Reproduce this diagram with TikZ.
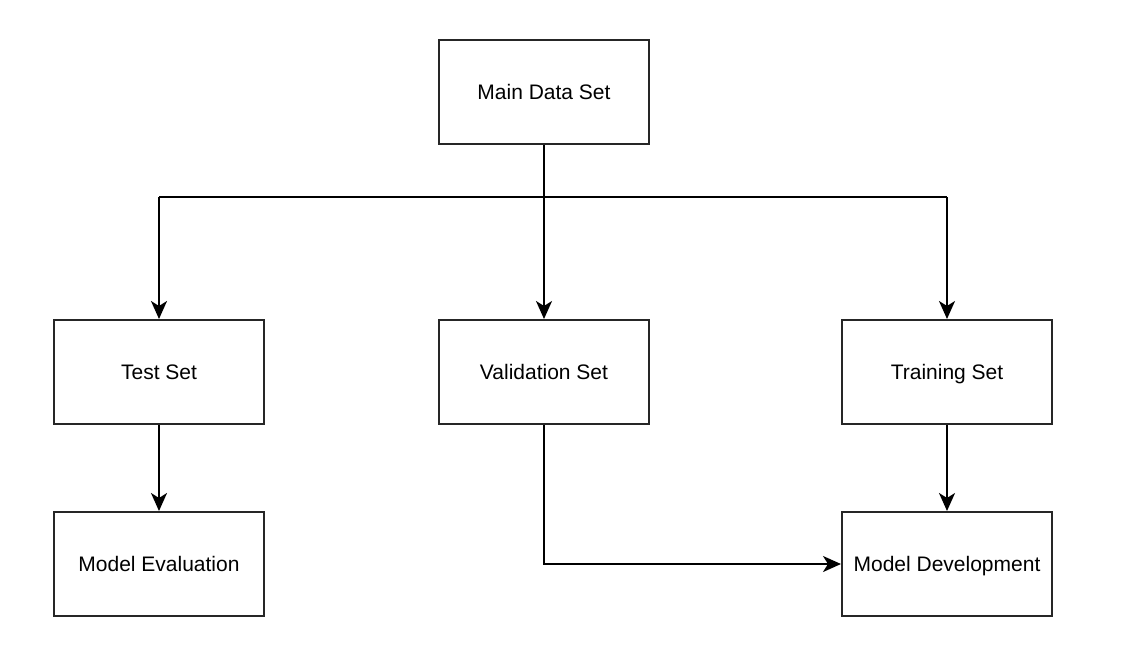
\documentclass[tikz,border=0pt]{standalone}
\usepackage{fontspec}
\setmainfont{Liberation Sans}
\usetikzlibrary{arrows.meta,calc}
\tikzset{
         setbox/.style=
          {
           draw=black!85,
           line width=2pt,
           minimum width=210pt,
           minimum height=104pt,
           inner sep=0pt,
           text height=17pt,
           text depth=2pt,
           font=\fontsize{21}{25}\selectfont
          },
         flow/.style=
          {
           line width=2pt,
           -{Stealth[length=18pt,width=16pt,inset=5pt]}
          }
        }

\begin{document}
\begin{tikzpicture}[x=1pt,y=-1pt]
      \useasboundingbox (0,0) rectangle (1123,650); % page size
      \node[setbox] (main) at (544,92) {Main Data Set}; % top box
      \node[setbox] (test) at (159,372) {Test Set}; % left box
      \node[setbox] (valid) at (544,372) {Validation Set}; % middle box
      \node[setbox] (train) at (947,372) {Training Set}; % right box
      \node[setbox] (eval) at (159,564) {Model Evaluation}; % lower left box
      \node[setbox] (dev) at (947,564) {Model Development}; % lower right box
      \coordinate (split) at (544,197); % branch point
      \draw[flow] (main) -- (valid); % Wiring
      \draw[line width=2pt] (test.north |- split) -- (train.north |- split); % Wiring
      \draw[flow] (test.north |- split) -- (test); % Wiring
      \draw[flow] (train.north |- split) -- (train); % Wiring
      \draw[flow] (test) -- (eval); % Wiring
      \draw[flow] (train) -- (dev); % Wiring
      \draw[flow] (valid.south) |- (dev.west); % Wiring
   \end{tikzpicture}
\end{document}
